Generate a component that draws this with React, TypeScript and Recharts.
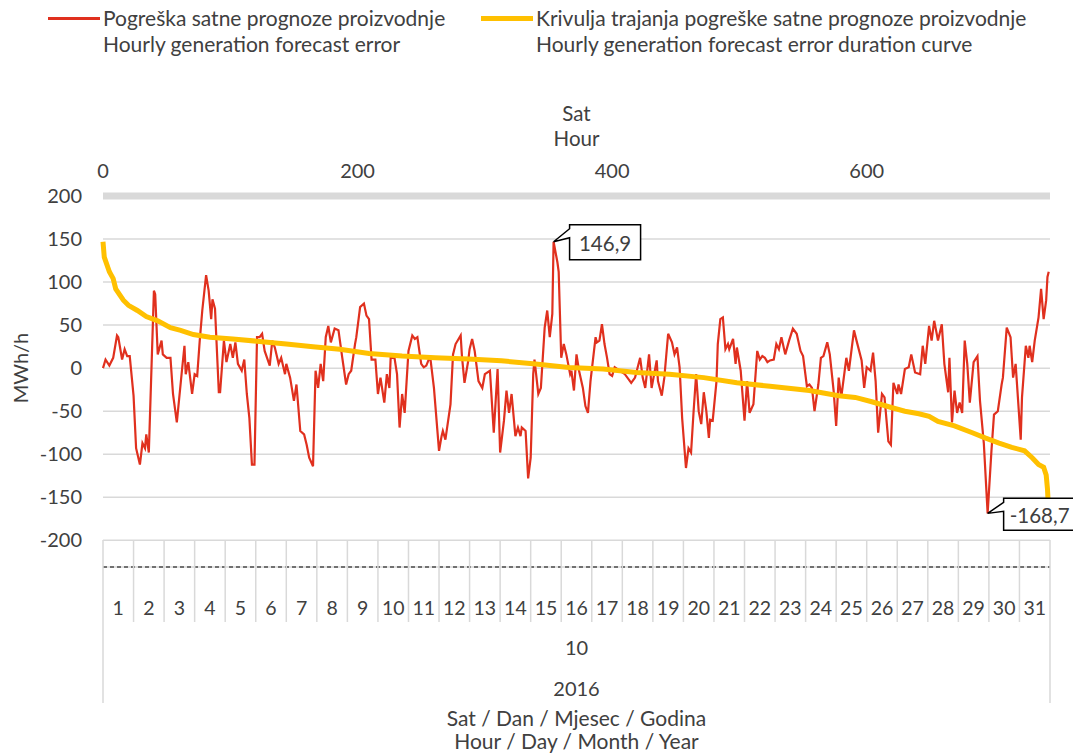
import React from "react";
import { ComposedChart, Line, XAxis, YAxis, CartesianGrid, ReferenceDot } from "recharts";

// hourly forecast error, October 2016 (hour index, MWh/h)
const errHours = [
  0, 2, 5, 8, 11, 12, 15, 17, 19, 21, 24, 26, 29, 31, 33, 34, 36, 40, 41, 43, 46, 47, 50, 53, 55, 58, 62, 64, 65, 67,
  70, 72, 74, 76, 78, 81, 83, 85, 86, 88, 91, 92, 95, 97, 100, 102, 104, 106, 109, 111, 113, 115, 117, 119, 121, 123,
  125, 127, 131, 133, 135, 138, 140, 143, 144, 147, 150, 152, 155, 158, 160, 162, 165, 167, 169, 171, 173, 175, 177,
  179, 182, 185, 188, 191, 193, 195, 198, 199, 202, 205, 207, 209, 211, 214, 216, 218, 221, 223, 225, 226, 229, 231,
  233, 235, 237, 240, 243, 245, 247, 250, 252, 254, 257, 260, 264, 266, 267, 269, 273, 275, 277, 281, 282, 284, 287,
  288, 290, 292, 295, 298, 300, 304, 307, 310, 312, 315, 317, 319, 321, 324, 326, 328, 329, 332, 334, 336, 338, 339,
  342, 344, 347, 349, 351, 353, 354, 357, 358, 360, 362, 364, 367, 368, 370, 372, 374, 377, 379, 381, 383, 387, 388,
  390, 392, 394, 396, 398, 400, 402, 406, 410, 415, 418, 422, 424, 426, 429, 431, 435, 436, 439, 441, 444, 447, 449,
  451, 453, 455, 458, 460, 462, 464, 466, 468, 470, 472, 474, 476, 477, 479, 482, 483, 485, 487, 489, 491, 492, 495,
  497, 498, 501, 504, 506, 508, 511, 514, 516, 518, 520, 522, 524, 527, 529, 531, 533, 536, 539, 542, 545, 548, 550,
  553, 555, 557, 559, 562, 564, 566, 569, 571, 574, 576, 578, 580, 582, 584, 586, 590, 592, 596, 598, 600, 603, 605,
  607, 609, 612, 614, 617, 619, 621, 624, 625, 627, 630, 633, 635, 638, 642, 644, 646, 649, 651, 653, 655, 656, 659,
  661, 664, 665, 667, 669, 671, 673, 675, 677, 679, 681, 684, 687, 689, 692, 695, 698, 700, 703, 706, 707, 710, 713,
  715, 717, 721, 722, 725, 727, 728, 730, 732, 735, 737, 739, 741, 742, 743,
];
const errValues = [
  0, 10, 3, 12, 38, 36, 10, 22, 14, 14, -32, -93, -112, -87, -93, -77, -98, 90, 86, 16, 32, 16, 12, 12, -30, -63, -3,
  26, -7, 7, -30, -7, -9, 32, 67, 108, 90, 57, 80, 69, -28, -28, 32, 7, 28, 12, 30, 5, -3, 10, -30, -58, -112, -112, 36,
  36, 40, 20, 3, 32, 24, 5, 12, -7, 5, -11, -38, -19, -73, -77, -89, -104, -114, -3, -23, 5, -15, 36, 49, 30, 46, 44,
  12, -19, -7, -3, 28, 36, 71, 75, 61, 57, 10, 10, -30, -11, -40, -7, -23, 12, 12, -7, -69, -30, -52, 20, 38, 34, 36,
  5, 1, 3, 14, -23, -96, -79, -73, -83, -42, 16, 28, 38, 14, -17, 9, 22, 34, 20, -15, -23, -7, -3, -75, -1, -98, -61,
  -26, -52, -30, -79, -69, -79, -69, -73, -128, -104, -7, 10, -30, -23, 47, 67, 36, 63, 146.9, 123, 112, 12, 28, 16,
  -7, -3, -26, 16, -3, -23, -44, -52, -15, 36, 30, 32, 51, 28, 12, -7, -9, 1, -3, -7, -17, -11, 12, -11, -23, 16, -23,
  9, -15, -32, -11, 40, 30, 16, 24, 1, -58, -116, -93, -98, -50, -7, -50, -65, -28, -50, -81, -60, -61, -15, 28, 57,
  59, 22, 28, 22, 34, 5, 24, -3, -61, -15, -52, -42, 20, 10, 14, 12, 7, 9, 10, 28, 22, 36, 16, 32, 46, 40, 20, 14, -21,
  -19, -23, -50, -19, 12, 14, 30, 16, -26, -67, -11, -34, -11, 12, -3, 44, 32, 9, -23, 1, -3, 18, -15, -75, -30, -34,
  -85, -89, -17, -30, -19, -30, -1, 1, 16, -5, -7, 26, 5, 49, 32, 55, 40, 32, 51, 5, -28, 12, -63, -26, -52, -40, -52,
  32, 5, -40, 7, 14, -38, -87, -168.7, -96, -54, -50, -19, -11, 47, 36, -11, 5, -83, -34, 26, 12, 26, 7, 32, 59, 92,
  57, 79, 106, 112,
];

// duration curve of the same error (sorted, hour rank)
const curveHours = [
  0, 1, 5, 8, 10, 16, 20, 27, 34, 43, 53, 61, 71, 84, 102, 123, 144, 165, 186, 209, 235, 261, 287, 313, 340, 366, 393,
  419, 445, 472, 498, 524, 555, 578, 591, 604, 620, 630, 641, 649, 656, 669, 683, 693, 704, 714, 724, 730, 735, 739,
  741, 742, 743,
];
const curveValues = [
  146.9, 129, 112, 104, 92, 79, 73, 67, 60, 55, 47, 44, 39, 36, 34, 31, 28, 25, 22, 17, 14, 12, 10.5, 8.6, 4.7, 0.8, -1,
  -5, -7, -11, -17, -21, -26, -32, -34, -39, -46, -50, -53, -56, -62, -67, -75, -81, -87, -92, -96, -104, -112, -115,
  -124, -140, -168.7,
];

const days = [
  1, 2, 3, 4, 5, 6, 7, 8, 9, 10, 11, 12, 13, 14, 15, 16, 17, 18, 19, 20, 21, 22, 23, 24, 25, 26, 27, 28, 29, 30, 31,
];
const month = "10";
const year = "2016";
const hourTicks = [0, 200, 400, 600];
const yTicks = [-200, -150, -100, -50, 0, 50, 100, 150, 200];

const HOURS = days.length * 24;
const W = 1073;
const H = 753;
const PLOT_LEFT = 103;
const PLOT_RIGHT = 1050;
const MID = (PLOT_LEFT + PLOT_RIGHT) / 2;
const DAY_PX = (PLOT_RIGHT - PLOT_LEFT) / days.length;
const FONT = "Lato, 'Open Sans', sans-serif";
const TXT = "#404040";
const GRID = "#d9d9d9";
const RED = "#e0301e";
const YELLOW = "#ffc000";

const errData = errHours.map((h, i) => ({ hour: h, err: errValues[i] }));
const curveData = curveHours.map((h, i) => ({ hour: h, dur: curveValues[i] }));
const dayEdges = [...days.map((d) => (d - 1) * 24), HOURS];

function DayTick(props: any) {
  const { x, y, payload } = props;
  const v = payload.value;
  const edge = v === 0 || v === HOURS;
  return (
    <g>
      <line x1={x} x2={x} y1={y - 27} y2={edge ? y + 136 : y + 55} stroke={GRID} strokeWidth={1.5} />
      {v < HOURS && (
        <text x={x + DAY_PX / 2} y={y + 40} textAnchor="middle" dominantBaseline="central" fill={TXT} fontSize={19.5} fontFamily={FONT}>
          {v / 24 + 1}
        </text>
      )}
    </g>
  );
}

function Callout({ cx, cy, text, w, h, dy }: any) {
  const left = cx + 16;
  const top = cy + dy;
  const d = `M${left},${top} H${left + w} V${top + h} H${left} V${top + 13} L${cx},${cy} L${left},${top + 4} Z`;
  return (
    <g>
      <path d={d} fill="#fff" stroke="#000" strokeWidth={1.5} />
      <text x={left + w / 2} y={top + h / 2 + 1} textAnchor="middle" dominantBaseline="central" fill={TXT} fontSize={20.5} fontFamily={FONT}>
        {text}
      </text>
    </g>
  );
}

function LegendItem({ color, thick, lines, left }: any) {
  return (
    <div style={{ position: "absolute", left, top: 5, fontFamily: FONT, fontSize: 21, color: TXT, lineHeight: "26px", whiteSpace: "nowrap" }}>
      <div style={{ position: "absolute", left: -55, top: 13 - thick / 2, width: 52, height: thick, background: color }} />
      <div>{lines[0]}</div>
      <div>{lines[1]}</div>
    </div>
  );
}

export default function App() {
  return (
    <div style={{ position: "absolute", left: 0, top: 0, width: W, height: H, background: "#fff" }}>
      <LegendItem color={RED} thick={3} left={103} lines={["Pogreška satne prognoze proizvodnje", "Hourly generation forecast error"]} />
      <LegendItem
        color={YELLOW}
        thick={5}
        left={536}
        lines={["Krivulja trajanja pogreške satne prognoze proizvodnje", "Hourly generation forecast error duration curve"]}
      />
      <div style={{ position: "absolute", left: 0, top: 0 }}>
        <ComposedChart width={W} height={H} margin={{ top: 166, right: W - PLOT_RIGHT, bottom: 146, left: 0 }}>
          <CartesianGrid xAxisId="bottom" vertical={false} stroke={GRID} strokeWidth={1.5} />
          <XAxis
            xAxisId="top"
            orientation="top"
            type="number"
            dataKey="hour"
            domain={[0, HOURS]}
            ticks={hourTicks}
            interval={0}
            height={30}
            axisLine={{ stroke: GRID, strokeWidth: 7 }}
            tickLine={false}
            tickSize={6}
            tickMargin={12}
            tick={{ fill: TXT, fontSize: 20, fontFamily: FONT }}
            label={{
              content: () => (
                <g fill={TXT} fontSize={20.5} fontFamily={FONT}>
                  <text x={MID} y={113} textAnchor="middle" dominantBaseline="central">Sat</text>
                  <text x={MID} y={138} textAnchor="middle" dominantBaseline="central">Hour</text>
                </g>
              ),
            }}
          />
          <XAxis
            xAxisId="bottom"
            type="number"
            dataKey="hour"
            domain={[0, HOURS]}
            ticks={dayEdges}
            interval={0}
            height={40}
            axisLine={{ stroke: "#000", strokeDasharray: "4 3", strokeWidth: 1 }}
            tickLine={false}
            tickSize={0}
            tickMargin={0}
            tick={<DayTick />}
            label={{
              content: () => (
                <g fill={TXT} fontFamily={FONT}>
                  <text x={MID} y={647} fontSize={20} textAnchor="middle" dominantBaseline="central">{month}</text>
                  <text x={MID} y={688} fontSize={20} textAnchor="middle" dominantBaseline="central">{year}</text>
                  <text x={MID} y={717} fontSize={21} textAnchor="middle" dominantBaseline="central">Sat / Dan / Mjesec / Godina</text>
                  <text x={MID} y={740} fontSize={21} textAnchor="middle" dominantBaseline="central">Hour / Day / Month / Year</text>
                </g>
              ),
            }}
          />
          <YAxis
            type="number"
            domain={[-231, 200]}
            ticks={yTicks}
            interval={0}
            width={PLOT_LEFT}
            axisLine={false}
            tickLine={false}
            tickSize={6}
            tickMargin={15}
            tick={{ fill: TXT, fontSize: 20, fontFamily: FONT }}
            label={{
              content: () => (
                <text x={20} y={368} transform="rotate(-90 20 368)" textAnchor="middle" dominantBaseline="central" fill={TXT} fontSize={20} fontFamily={FONT}>
                  MWh/h
                </text>
              ),
            }}
          />
          <Line
            data={errData}
            xAxisId="bottom"
            dataKey="err"
            type="linear"
            stroke={RED}
            strokeWidth={2.2}
            dot={false}
            isAnimationActive={false}
          />
          <Line
            data={curveData}
            xAxisId="top"
            dataKey="dur"
            type="linear"
            stroke={YELLOW}
            strokeWidth={5}
            dot={false}
            isAnimationActive={false}
          />
          <ReferenceDot
            xAxisId="bottom"
            x={354}
            y={146.9}
            r={0}
            ifOverflow="visible"
            shape={(p: any) => <Callout cx={p.cx} cy={p.cy} text="146,9" w={71} h={35} dy={-17} />}
          />
          <ReferenceDot
            xAxisId="bottom"
            x={695}
            y={-168.7}
            r={0}
            ifOverflow="visible"
            shape={(p: any) => <Callout cx={p.cx} cy={p.cy} text="-168,7" w={72} h={32} dy={-15} />}
          />
        </ComposedChart>
      </div>
    </div>
  );
}
